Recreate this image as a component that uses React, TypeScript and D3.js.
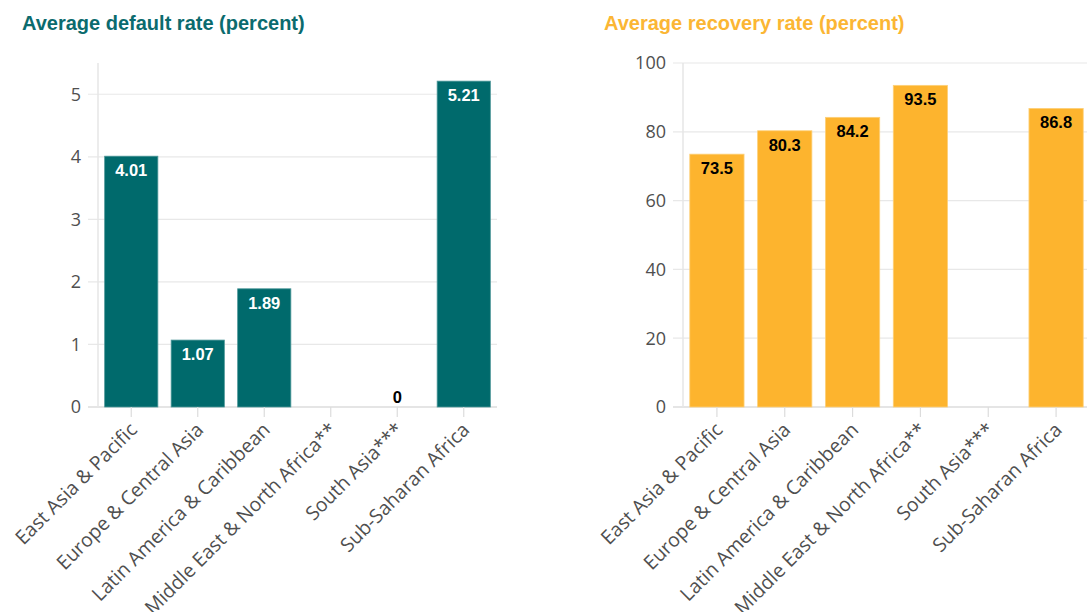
import React from "react";
import * as d3 from "d3";

const categories = [
  "East Asia & Pacific",
  "Europe & Central Asia",
  "Latin America & Caribbean",
  "Middle East & North Africa**",
  "South Asia***",
  "Sub-Saharan Africa",
];
const defaultRates: (number | null)[] = [4.01, 1.07, 1.89, null, 0, 5.21];
const recoveryRates: (number | null)[] = [73.5, 80.3, 84.2, 93.5, null, 86.8];
const defaultTicks = [0, 1, 2, 3, 4, 5];
const recoveryTicks = [0, 20, 40, 60, 80, 100];

const W = 1087;
const H = 612;
const TOP = 63;
const BOTTOM = 407;

type PanelProps = {
  title: string;
  titleColor: string;
  titleX: number;
  values: (number | null)[];
  ticks: number[];
  yMax: number;
  x0: number;
  x1: number;
  barColor: string;
  barStroke: string;
  labelColor: string;
  fmt: (v: number) => string;
};

function Panel(p: PanelProps) {
  const x = d3
    .scaleBand<string>()
    .domain(categories)
    .range([p.x0, p.x1])
    .paddingInner(0.2)
    .paddingOuter(0.1);
  const y = d3.scaleLinear().domain([0, p.yMax]).range([BOTTOM, TOP]);
  const font = "'Open Sans', Lato, sans-serif";
  return (
    <g>
      <text
        x={p.titleX}
        y={30}
        fill={p.titleColor}
        fontFamily="'Liberation Sans', Arial, sans-serif"
        fontWeight="bold"
        fontSize={20}
      >
        {p.title}
      </text>
      {p.ticks.map((t) => (
        <g key={t}>
          <line
            x1={p.x0 - 10}
            x2={p.x1}
            y1={y(t)}
            y2={y(t)}
            stroke={t === 0 ? "#dcdcdc" : "#e8e8e8"}
            strokeWidth={t === 0 ? 1.5 : 1.2}
          />
          <text
            x={p.x0 - 17}
            y={y(t)}
            dy="0.35em"
            textAnchor="end"
            fontFamily={font}
            fontSize={18}
            fill="#4f4f4f"
          >
            {t}
          </text>
        </g>
      ))}
      <line x1={p.x0} x2={p.x0} y1={TOP} y2={BOTTOM} stroke="#e6e6e6" strokeWidth={1.5} />
      {categories.map((c, i) => {
        const v = p.values[i];
        if (v === null || v === 0) return null;
        return (
          <rect
            key={c}
            x={x(c)!}
            y={y(v)}
            width={x.bandwidth()}
            height={BOTTOM - y(v)}
            fill={p.barColor}
            stroke={p.barStroke}
            strokeWidth={0.8}
          />
        );
      })}
      {categories.map((c) => {
        const cx = x(c)! + x.bandwidth() / 2;
        return (
          <g key={c}>
            <line x1={cx} x2={cx} y1={BOTTOM} y2={BOTTOM + 10} stroke="#dcdcdc" strokeWidth={1.2} />
            <text
              transform={`translate(${cx + 7},${BOTTOM + 24}) rotate(-45)`}
              textAnchor="end"
              fontFamily={font}
              fontSize={19.5}
              fill="#4f4f4f"
            >
              {c}
            </text>
          </g>
        );
      })}
      {categories.map((c, i) => {
        const v = p.values[i];
        if (v === null) return null;
        const cx = x(c)! + x.bandwidth() / 2;
        const inside = BOTTOM - y(v) > 25;
        return (
          <text
            key={c}
            x={cx}
            y={inside ? y(v) + 20 : y(v) - 4}
            textAnchor="middle"
            fontFamily="'Liberation Sans', Arial, sans-serif"
            fontWeight="bold"
            fontSize={16.5}
            fill={inside ? p.labelColor : "#000"}
            stroke={inside ? "none" : "#fff"}
            strokeWidth={inside ? 0 : 3}
            paintOrder="stroke"
          >
            {p.fmt(v)}
          </text>
        );
      })}
    </g>
  );
}

export default function App() {
  return (
    <svg
      width={W}
      height={H}
      style={{ position: "absolute", left: 0, top: 0, background: "#fff" }}
    >
      <rect width={W} height={H} fill="#fff" />
      <Panel
        title="Average default rate (percent)"
        titleColor="#0b6b6e"
        titleX={22}
        values={defaultRates}
        ticks={defaultTicks}
        yMax={5.5}
        x0={98}
        x1={497}
        barColor="#006a6c"
        barStroke="#4d9799"
        labelColor="#fff"
        fmt={(v) => (v === 0 ? "0" : d3.format(".2f")(v))}
      />
      <Panel
        title="Average recovery rate (percent)"
        titleColor="#fbb634"
        titleX={604}
        values={recoveryRates}
        ticks={recoveryTicks}
        yMax={100}
        x0={683}
        x1={1090}
        barColor="#fdb42e"
        barStroke="#fdd07a"
        labelColor="#000"
        fmt={(v) => d3.format(".1f")(v)}
      />
    </svg>
  );
}
